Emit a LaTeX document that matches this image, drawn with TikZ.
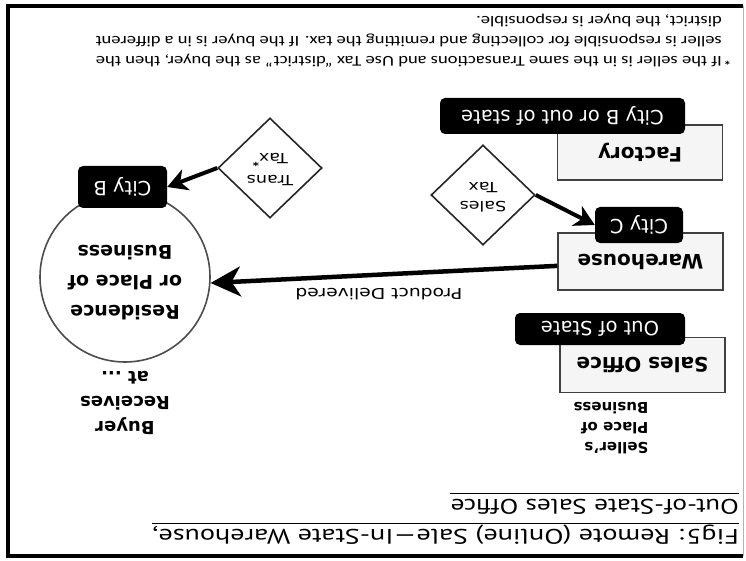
\documentclass[tikz,border=0pt]{standalone}
\usepackage{fontspec}
\usepackage{graphicx}
\usetikzlibrary{arrows.meta,shapes.geometric,calc}
\newfontfamily\lblfont{DejaVu Sans}
\newfontfamily\lblwide[FakeStretch=1.25]{DejaVu Sans}
\newfontfamily\titlefont[FakeStretch=1.3]{PT Sans}
\newfontfamily\titlewide[FakeStretch=1.34]{PT Sans}
\newfontfamily\notefont[FakeStretch=1.24]{Carlito}
\newcommand\Rot[1]{\rotatebox[origin=c]{180}{#1}}
\tikzset{
  frameline/.style={line width=3.5pt, black},
  whitebox/.style={draw=black!75, line width=1.6pt, fill=gray!8, minimum width=165pt,
    minimum height=55pt, inner sep=0pt, font=\lblfont\bfseries\fontsize{20}{24}\selectfont},
  blackbox/.style={fill=black, text=white, rounded corners=5pt, inner sep=0pt,
    font=\lblfont\fontsize{19.5}{22}\selectfont},
  taxdia/.style={diamond, draw=black!85, line width=1.6pt, fill=white, inner sep=0pt,
    minimum width=104pt, minimum height=100pt, font=\lblwide\fontsize{14}{17}\selectfont},
  updown/.style={rotate=180, inner sep=0pt},
  bigarrow/.style={line width=4.5pt, -{Stealth[length=30pt,width=30pt,inset=9pt]}},
  smallarrow/.style={line width=4pt, -{Stealth[length=20pt,width=22pt,inset=6pt]}},
  underline/.style={line width=1.2pt}
}
\begin{document}
\begin{tikzpicture}[x=1pt,y=-1pt]
\useasboundingbox (0,0) rectangle (746,561);
% frame
\draw[frameline] (743,6) -- (8,6) -- (8,556) -- (743,556);
\draw[gray!60, line width=1pt] (743,6) -- (743,556);

% title
\node[updown, anchor=base west, font=\titlewide\fontsize{21}{25}\selectfont] (t1) at (739,529.5)
  {Fig5: Remote (Online) Sale—In-State Warehouse,};
\draw[underline] ($(t1.base west)+(0,-6)$) -- ($(t1.base east)+(0,-6)$);
\node[updown, anchor=base west, font=\titlefont\fontsize{21}{25}\selectfont] (t2) at (739,499.5)
  {Out-of-State Sales Office};
\draw[underline] ($(t2.base west)+(0,-6)$) -- ($(t2.base east)+(0,-6)$);

% seller side
\node[updown, align=left, font=\lblfont\bfseries\fontsize{15}{20}\selectfont] (seller) at (611,428)
  {Seller’s\\Place of\\Business};
\node[whitebox] (so) at (642.5,365) {\Rot{Sales Office}};
\node[blackbox, minimum width=170pt, minimum height=32pt] (oos) at (600,329) {\Rot{Out of State}};
\node[whitebox, minimum height=57pt] (wh) at (640.5,261.5) {\Rot{Warehouse}};
\node[blackbox, minimum width=88pt, minimum height=36pt] (cc) at (639,225) {\Rot{City C}};
\node[whitebox] (fac) at (640,152.5) {\Rot{Factory}};
\node[blackbox, minimum width=245pt, minimum height=36pt] (cbo) at (562.5,116) {\Rot{City B or out of state}};

% buyer side
\node[circle, draw=black!70, line width=1.6pt, fill=white, minimum size=170pt, inner sep=0pt] (res) at (125,277) {};
\node[updown, align=center, font=\lblfont\bfseries\fontsize{19}{30}\selectfont] (restext) at (125,283)
  {Residence\\or Place of\\Business};
\node[blackbox, minimum width=89pt, minimum height=42pt] (cb) at (122.5,187) {\Rot{City B}};
\node[updown, align=center, font=\lblfont\bfseries\fontsize{18}{25}\selectfont] (buyer) at (125,403)
  {Buyer\\Receives\\at ...};

% taxes
\node[taxdia] (st) at (483,195) {\Rot{\begin{tabular}{@{}c@{}}Sales\\[2pt]Tax\end{tabular}}};
\node[taxdia] (tt) at (270,168) {\Rot{\begin{tabular}{@{}c@{}}Trans\\[4pt]Tax\textsuperscript{\bfseries *}\end{tabular}}};

% connectors
\draw[bigarrow] (wh.183) -- (res.-4);
\node[updown, font=\lblwide\fontsize{15}{17}\selectfont] (pd) at (379,294) {Product Delivered};
\draw[smallarrow] (st.east) -- (cc.west);
\draw[smallarrow] (tt.west) -- (cb.east);

% footnote
\node[updown, anchor=north west, align=left, font=\notefont\fontsize{15}{20}\selectfont] (note) at (722,68)
  {\llap{\bfseries\large *\,}If the seller is in the same Transactions and Use Tax “district” as the buyer, then the\\
   seller is responsible for collecting and remitting the tax. If the buyer is in a different\\
   district, the buyer is responsible.};
\end{tikzpicture}
\end{document}
